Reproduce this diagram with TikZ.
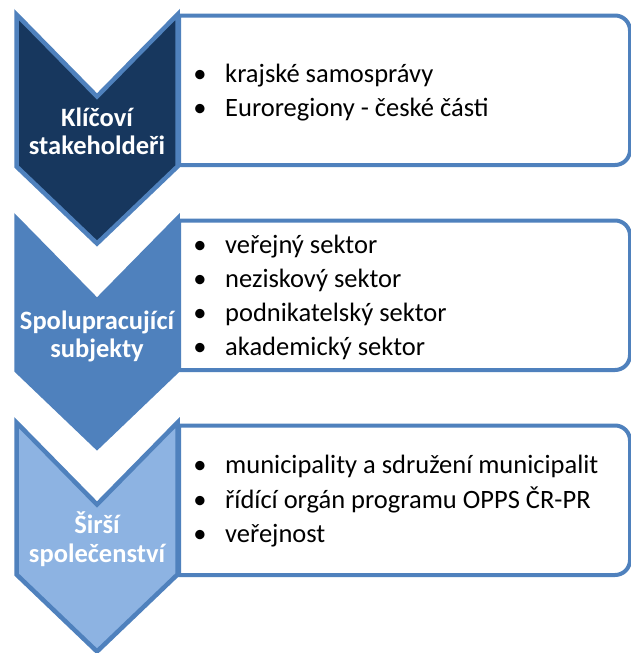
\documentclass[tikz,border=0pt]{standalone}
\usepackage{fontspec}
\setmainfont{Carlito}
\definecolor{navy}{RGB}{23,55,94}
\definecolor{midblue}{RGB}{79,129,189}
\definecolor{lightblue}{RGB}{141,179,226}
\newcommand\mychevron[2]{%
  \draw[chev,fill=#2] (16.5,#1) -- (97,{#1+82}) -- (177.5,#1) -- (177.5,{#1+152})
    -- (97,{#1+229}) -- (16.5,{#1+152}) -- cycle;}
\newcommand\mybox[1]{%
  \draw[box] (179,#1) -- (615,#1) arc[start angle=-90,end angle=0,radius=15]
    -- (630,{#1+134.5}) arc[start angle=0,end angle=90,radius=15] -- (179,{#1+149.5}) -- cycle;}
\begin{document}
\begin{tikzpicture}[x=1pt,y=-1pt,
  chev/.style={line width=4.5pt,draw=midblue,line join=miter},
  box/.style={line width=4pt,draw=midblue,fill=white},
  lab/.style={anchor=base,text=white,inner sep=0pt,font=\bfseries\fontsize{26.5}{29}\selectfont},
  item/.style={anchor=base west,inner sep=0pt,font=\fontsize{26.5}{33}\selectfont},
  bul/.style={anchor=base,inner sep=0pt,font=\fontsize{26.5}{33}\selectfont}]
\useasboundingbox (0,0) rectangle (631,653);
\fill[white] (0,0) rectangle (631,653);
% boxes
\mybox{15.5}
\mybox{220.5}
\mybox{425.5}
% chevrons
\mychevron{14.5}{navy}
\mychevron{218.5}{midblue}
\mychevron{422.5}{lightblue}
% chevron labels
\node[lab] (c1a) at (97,126) {Klíčoví};
\node[lab] (c1b) at (97,154) {stakeholdeři};
\node[lab] (c2a) at (97,329) {Spolupracující};
\node[lab] (c2b) at (97,357) {subjekty};
\node[lab] (c3a) at (97,533) {Širší};
\node[lab] (c3b) at (97,562) {společenství};
% box 1
\node[bul] (b1a) at (200,82) {•};
\node[item] (t1a) at (225,82) {krajské samosprávy};
\node[bul] (b1b) at (200,116) {•};
\node[item] (t1b) at (225,116) {Euroregiony - české části};
% box 2
\node[bul] (b2a) at (200,253) {•};
\node[item] (t2a) at (225,253) {veřejný sektor};
\node[bul] (b2b) at (200,287) {•};
\node[item] (t2b) at (225,287) {neziskový sektor};
\node[bul] (b2c) at (200,321) {•};
\node[item] (t2c) at (225,321) {podnikatelský sektor};
\node[bul] (b2d) at (200,355) {•};
\node[item] (t2d) at (225,355) {akademický sektor};
% box 3
\node[bul] (b3a) at (200,473) {•};
\node[item] (t3a) at (225,473) {municipality a sdružení municipalit};
\node[bul] (b3b) at (200,508) {•};
\node[item] (t3b) at (225,508) {řídící orgán programu OPPS ČR-PR};
\node[bul] (b3c) at (200,542) {•};
\node[item] (t3c) at (225,542) {veřejnost};
\end{tikzpicture}
\end{document}
